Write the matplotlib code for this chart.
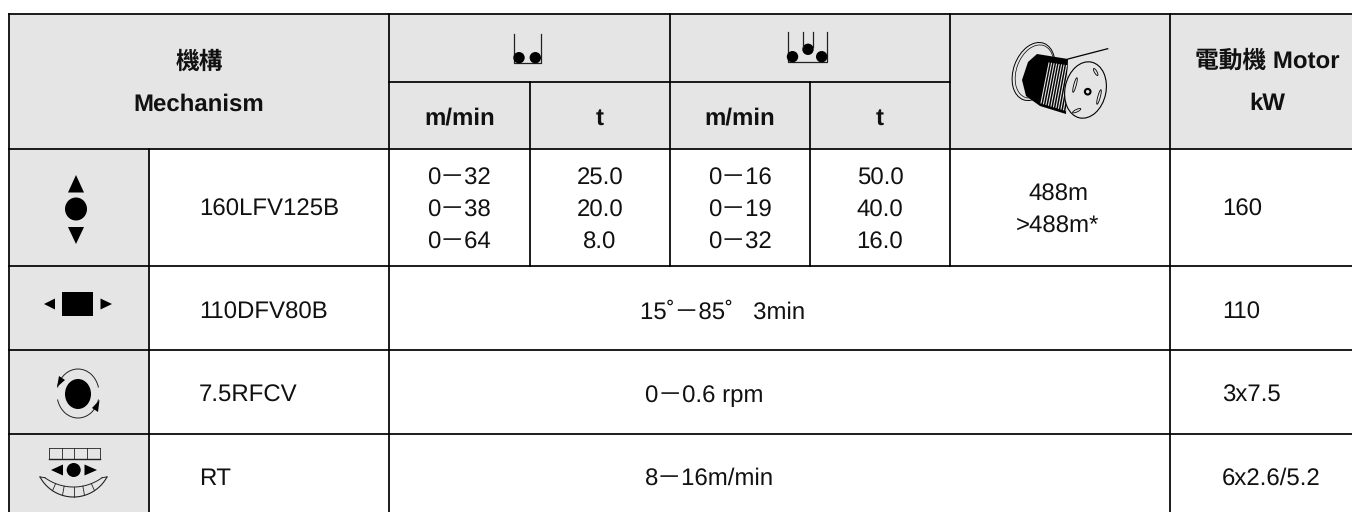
import numpy as np
import matplotlib
matplotlib.use("Agg")
import matplotlib.pyplot as plt
from matplotlib.patches import Rectangle, Ellipse, Circle, Polygon, Arc

plt.rcParams['text.hinting'] = 'no_hinting'
plt.rcParams['text.hinting_factor'] = 1

W, H = 1352, 512
FONT = ['Liberation Sans', 'Noto Sans CJK TC', 'DejaVu Sans']
GREY = '#e5e5e5'
LW = 1.25
FS = 17.1

# Table text
header_cn = "機構"
header_en = "Mechanism"
motor_header = ["電動機 Motor", "kW"]
sub_headers = ["m/min", "t", "m/min", "t"]
mechanisms = ["160LFV125B", "110DFV80B", "7.5RFCV", "RT"]
speed_single = ["0－32", "0－38", "0－64"]
load_single = ["25.0", "20.0", "8.0"]
speed_double = ["0－16", "0－19", "0－32"]
load_double = ["50.0", "40.0", "16.0"]
rope = ["488m", ">488m*"]
merged = ["15˚－85˚   3min", "0－0.6 rpm", "8－16m/min"]
motors = ["160", "110", "3x7.5", "6x2.6/5.2"]

# Grid layout in pixels
X = [9, 149, 389, 530, 670, 810, 950, 1170, W]
Y = [14, 82, 149, 266, 350, 434, 512]

fig = plt.figure(figsize=(W/100, H/100), dpi=100)
ax = fig.add_axes([0, 0, 1, 1])
ax.set_xlim(0, W); ax.set_ylim(H, 0); ax.axis('off')


def txt(x, y, s, bold=False, size=FS, ha='center'):
    ax.text(x, y + 2.2, s, ha=ha, va='center', fontsize=size, family=FONT,
            fontweight='bold' if bold else 'normal', color='#111111')


def hl(y, x0, x1):
    ax.plot([x0, x1], [y, y], color='k', lw=LW, solid_capstyle='projecting', zorder=5)


def vl(x, y0, y1):
    ax.plot([x, x], [y0, y1], color='k', lw=LW, solid_capstyle='projecting', zorder=5)


# Shaded cells
ax.add_patch(Rectangle((X[0], Y[0]), X[-1]-X[0], Y[2]-Y[0], fc=GREY, ec='none'))
ax.add_patch(Rectangle((X[0], Y[2]), X[1]-X[0], Y[-1]-Y[2], fc=GREY, ec='none'))

# Rules
for y in (Y[0], Y[2], Y[3], Y[4], Y[5]):
    hl(y, X[0], X[-1])
hl(Y[1], X[2], X[6])
vl(X[0], Y[0], H)
vl(X[1], Y[2], H)
vl(X[2], Y[0], H)
vl(X[4], Y[0], Y[3])
vl(X[6], Y[0], Y[3])
vl(X[7], Y[0], H)
for i in (3, 5):
    vl(X[i], Y[1], Y[3])

# Header text
txt(199, 60, header_cn, True)
txt(199, 102, header_en, True)
for i, s in enumerate(sub_headers):
    txt((X[2+i]+X[3+i])/2, 116, s, True)
txt(1267, 59, motor_header[0], True)
txt(1267, 102, motor_header[1], True)

# Body
row_y = [176.5, 208.5, 240.5]
for j in range(3):
    txt(459, row_y[j], speed_single[j])
    txt(600, row_y[j], load_single[j])
    txt(740, row_y[j], speed_double[j])
    txt(880, row_y[j], load_double[j])
txt(1058, 192, rope[0])
txt(1058, 224, rope[1])

name_y = [207, 310, 393.5, 476.5]
for m, y in zip(mechanisms, name_y):
    txt(199, y, m, ha='left')
for m, y, x in zip(merged, name_y[1:], [640, 645, 645]):
    txt(x, y, m, ha='left')
for m, y in zip(motors, name_y):
    txt(1222, y, m, ha='left')

# Icons
ICON = dict(fc='k', ec='none', zorder=6)
THIN = dict(color='#222222', zorder=6)
# up/down
ax.add_patch(Polygon([[76, 175], [68, 192.5], [84, 192.5]], **ICON))
ax.add_patch(Ellipse((76, 209), 22, 23, **ICON))
ax.add_patch(Polygon([[76, 244], [68, 227], [84, 227]], **ICON))
# left/right
ax.add_patch(Rectangle((62, 292), 31, 24, **ICON))
ax.add_patch(Polygon([[44, 304], [55, 298.5], [55, 309.5]], **ICON))
ax.add_patch(Polygon([[112, 304], [100.5, 298.5], [100.5, 309.5]], **ICON))
# rotate
ax.add_patch(Ellipse((78, 394), 26, 30, **ICON))
ax.add_patch(Arc((78, 393), 42, 48, theta1=195, theta2=345, lw=0.7, **THIN))
ax.add_patch(Arc((78, 394), 42, 48, theta1=15, theta2=165, lw=0.7, **THIN))
ax.add_patch(Polygon([[57, 387], [59, 376], [65, 380]], **ICON))
ax.add_patch(Polygon([[99.5, 400], [98, 412], [92, 408]], **ICON))
# rail travel
for xx in np.linspace(49, 99.5, 5):
    ax.plot([xx, xx], [448, 459], lw=0.6, **THIN)
ax.plot([49, 99.5], [448, 448], lw=0.6, **THIN)
ax.plot([49, 99.5], [459, 459], lw=1.0, **THIN)
ax.add_patch(Circle((73.7, 470), 7, **ICON))
ax.add_patch(Polygon([[51, 470], [63, 464.5], [63, 475.5]], **ICON))
ax.add_patch(Polygon([[97, 470], [84.5, 464.5], [84.5, 475.5]], **ICON))
# curved rail: outer and inner circular edges joined by sleepers
CX = 73.5
OUT_C, OUT_R = 459.0, 38.0
IN_C, IN_R = 438.5, 48.5


def on_circle(cy, r, dx):
    return CX + dx, cy + np.sqrt(max(r*r - dx*dx, 0))


dxs = np.linspace(-33.5, 33.5, 61)
ax.plot(*zip(*[on_circle(OUT_C, OUT_R, d) for d in dxs]), lw=0.8, **THIN)
ax.plot(*zip(*[on_circle(IN_C, IN_R, d) for d in np.linspace(-28.5, 28.5, 61)]), lw=0.7, **THIN)
ax.plot([CX-33.5, CX-28.5], [on_circle(OUT_C, OUT_R, 33.5)[1], on_circle(IN_C, IN_R, 28.5)[1]], lw=0.7, **THIN)
ax.plot([CX+33.5, CX+28.5], [on_circle(OUT_C, OUT_R, 33.5)[1], on_circle(IN_C, IN_R, 28.5)[1]], lw=0.7, **THIN)
for d in [-21, -11, 0, 11, 21]:
    a = on_circle(IN_C, IN_R, d*0.85)
    b = on_circle(OUT_C, OUT_R, d)
    ax.plot([a[0], b[0]], [a[1], b[1]], lw=0.6, **THIN)


# Sheaves
def sheave(circles, x0, x1, bottom, top):
    ax.plot([x0, x0, x1, x1], [top, bottom, bottom, top], lw=0.9, **THIN)
    for cx, cy in circles:
        ax.add_patch(Circle((cx, cy), 5.7, **ICON))


sheave([(519, 57.7), (535.3, 57.7)], 513.5, 541, 63, 34)
sheave([(792.5, 56.7), (821.7, 56.7), (808, 49.3)], 787.5, 827, 62, 32)
ax.plot([802.7, 802.7], [32, 47], lw=0.9, **THIN)
ax.plot([813.3, 813.3], [32, 47], lw=0.9, **THIN)

# Drum
ax.add_patch(Ellipse((1033.5, 71.5), 40, 60, angle=20, fc=GREY, ec='k', lw=0.7, zorder=6))
ax.add_patch(Ellipse((1034.5, 71.5), 36, 55, angle=20, fc=GREY, ec='k', lw=0.5, zorder=6))
ax.add_patch(Polygon([[1022, 80], [1028, 62], [1037, 54], [1068, 59], [1066, 114],
                      [1040, 106], [1026, 96]], fc='k', ec='none', zorder=7))
for k in np.linspace(0, 30, 13):
    ax.plot([1049+k, 1041+k], [63+0.15*k, 103+0.3*k], color=GREY, lw=0.8, zorder=7)
ax.plot([1068, 1107.7], [59, 48.7], color='k', lw=0.9, zorder=7)
ax.add_patch(Ellipse((1085.5, 90), 41, 57, angle=12, fc=GREY, ec='k', lw=0.8, zorder=8))
ax.add_patch(Circle((1087.7, 91.7), 2.8, fc='none', ec='k', lw=1.5, zorder=9))
for (cx, cy, a, h) in [(1075, 85, 15, 15), (1095.7, 72, -30, 8), (1099, 97, 15, 15), (1076.7, 110.7, 65, 9)]:
    ax.add_patch(Ellipse((cx, cy), 2.5, h, angle=a, fc='none', ec='k', lw=0.6, zorder=9))

fig.savefig('out.png', dpi=100, facecolor='white')
